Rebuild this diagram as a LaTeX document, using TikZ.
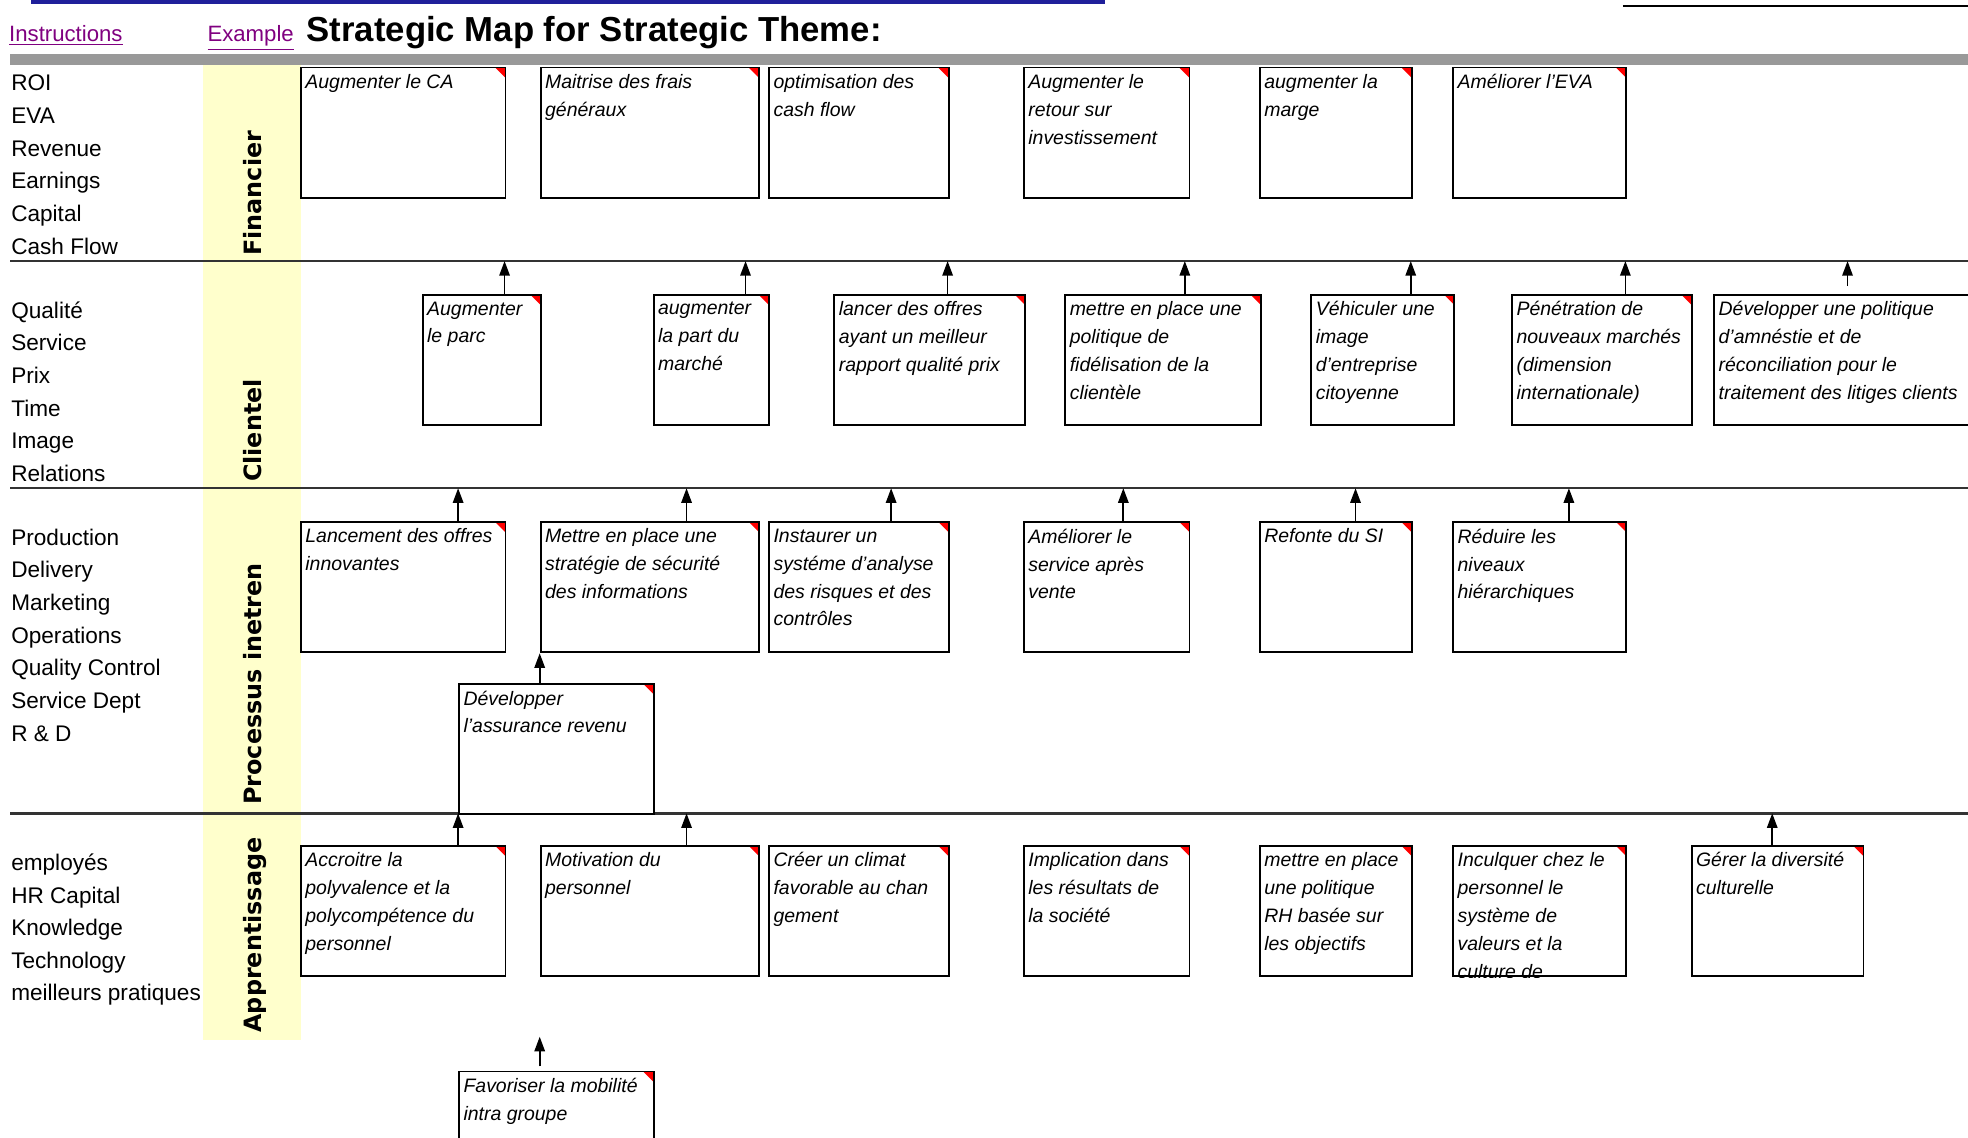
\documentclass[tikz,border=0pt]{standalone}
\usepackage{fontspec}
\setmainfont{Liberation Sans}
\newfontfamily\headfont{DejaVu Sans}
\usetikzlibrary{arrows.meta}
\definecolor{bandgray}{HTML}{999999}
\definecolor{laneyellow}{HTML}{FFFFCC}
\definecolor{linkpurple}{HTML}{800080}
\definecolor{linkblue}{HTML}{1F1F9A}
\definecolor{cornerred}{HTML}{FF0000}

\begin{document}
\begin{tikzpicture}[x=0.6pt,y=-0.6pt,
  kpi/.style={anchor=base west,inner sep=1pt,font=\fontsize{10.8}{13}\selectfont},
  persp/.style={rotate=90,inner sep=0pt,font=\headfont\bfseries\fontsize{11.4}{13}\selectfont},
  link/.style={anchor=base west,inner sep=0pt,text=linkpurple,font=\fontsize{10.6}{13}\selectfont},
  sepline/.style={line width=1.2pt,black!80},
  objbox/.style={draw,line width=0.9pt,fill=white,anchor=north west,inner sep=0pt,minimum height=62.4pt,
    path picture={\fill[cornerred] (path picture bounding box.north east) -- ++(-5pt,0pt) -- ++(5pt,-5pt) -- cycle;}},
  objtext/.style={anchor=north west,align=left,inner xsep=2.4pt,inner ysep=3.6pt,font=\fontsize{9.3}{13.35}\selectfont\itshape},
  flow/.style={-{Triangle[length=7pt,width=5pt]},line width=0.8pt}]
\useasboundingbox (0,0) rectangle (1568,906);
\fill[white] (0,0) rectangle (1568,906);

% header
\fill[linkblue] (25,0) rectangle (880,3);
\draw[line width=1pt] (1293,5) -- (1568,5);
\node[link] (instr) at (7,33) {\underline{Instructions}};
\node[link] (expl) at (165,33) {\underline{Example}};
\node[anchor=base west,inner sep=0pt,font=\bfseries\fontsize{16.6}{18}\selectfont] (ttl) at (244,33) {Strategic Map for Strategic Theme:};

% bands and lanes
\fill[bandgray] (8,43) rectangle (1568,52);
\fill[laneyellow] (162,52) rectangle (240,829);
\foreach \yy in {208,389,648}
  \draw[sepline] (8,\yy) -- (1568,\yy);

\node[persp] (finL) at (201,154) {Financier};
\node[persp] (cliL) at (201,343) {Clientel};
\node[persp] (proL) at (201,545) {Processus inetren};
\node[persp] (appL) at (203,745) {Apprentissage};

% measures on the left
\foreach \lab [count=\i] in {ROI,EVA,Revenue,Earnings,Capital,Cash Flow}
  \node[kpi] (fin\i) at (7,{46.5+26*\i}) {\lab};
\foreach \lab [count=\i] in {Qualité,Service,Prix,Time,Image,Relations}
  \node[kpi] (cli\i) at (7,{227.5+26*\i}) {\lab};
\foreach \lab [count=\i] in {Production,Delivery,Marketing,Operations,Quality Control,Service Dept,R \& D}
  \node[kpi] (pro\i) at (7,{408.5+26*\i}) {\lab};
\foreach \lab [count=\i] in {employés,HR Capital,Knowledge,Technology,meilleurs pratiques}
  \node[kpi] (app\i) at (7,{667.5+26*\i}) {\lab};

% objectives
\foreach \nm/\xa/\ya/\xb/\txt in {
  f1/239/53/402/{Augmenter le CA},
  f2/430/53/604/{Maitrise des frais\\généraux},
  f3/612/53/755/{optimisation des\\cash flow},
  f4/815/53/947/{Augmenter le\\retour sur\\investissement},
  f5/1003/53/1124/{augmenter la\\marge},
  f6/1157/53/1295/{Améliorer l'EVA},
  c1/336/234/430/{Augmenter\\le parc},
  c2/520/234/612/{augmenter\\la part du\\marché},
  c3/664/234/816/{lancer des offres\\ayant un meilleur\\rapport qualité prix},
  c4/848/234/1004/{mettre en place une\\politique de\\fidélisation de la\\clientèle},
  c5/1044/234/1158/{Véhiculer une\\image\\d'entreprise\\citoyenne},
  c6/1204/234/1347/{Pénétration de\\nouveaux marchés\\(dimension\\internationale)},
  c7/1365/234/1580/{Développer une politique\\d'amnéstie et de\\réconciliation pour le\\traitement des litiges clients},
  p1/239/415/402/{Lancement des offres\\innovantes},
  p2/430/415/604/{Mettre en place une\\stratégie de sécurité\\des informations},
  p3/612/415/755/{Instaurer un\\systéme d'analyse\\des risques et des\\contrôles},
  p4/815/415/947/{Améliorer le\\service après\\vente},
  p5/1003/415/1124/{Refonte du SI},
  p6/1157/415/1295/{Réduire les\\niveaux\\hiérarchiques},
  p7/365/544/520/{Développer\\l'assurance revenu},
  a1/239/673/402/{Accroitre la\\polyvalence et la\\polycompétence du\\personnel},
  a2/430/673/604/{Motivation du\\personnel},
  a3/612/673/755/{Créer un climat\\favorable au chan\\gement},
  a4/815/673/947/{Implication dans\\les résultats de\\la société},
  a5/1003/673/1124/{mettre en place\\une politique\\RH basée sur\\les objectifs},
  a6/1157/673/1295/{Inculquer chez le\\personnel le\\système de\\valeurs et la\\culture de},
  a7/1347/673/1484/{Gérer la diversité\\culturelle},
  a8/365/853/520/{Favoriser la mobilité\\intra groupe}}{
  \pgfmathsetmacro\bw{(\xb-\xa)*0.6}
  \node[objbox,minimum width=\bw pt] (\nm) at (\xa,\ya) {};
  \begin{scope}
    \clip (\nm.north west) rectangle (\nm.south east);
    \node[objtext] (\nm-t) at (\nm.north west) {\txt};
  \end{scope}
}

% links up to the next perspective
\foreach \nm/\ax/\ly in {c1/402/208,c2/594/208,c3/755/208,c4/944/208,c5/1124/208,c6/1295/208,
  p1/365/389,p2/547/389,p3/710/389,p4/895/389,p5/1080/389,p6/1250/389,
  a1/365/648,a2/547/648,a7/1412/648}{
  \coordinate (\nm-up) at (\ax,\ly);
  \draw[flow] (\nm.north -| \nm-up) -- (\nm-up);
}
\coordinate (c7-up) at (1472,208);
\draw[flow,shorten <=3.6pt] (c7.north -| c7-up) -- (c7-up);
\draw[flow] (p7.north -| p2.south west) -- (p2.south west);
\coordinate (a8-up) at (430,826);
\draw[flow,shorten <=2pt] (a8.north -| a8-up) -- (a8-up);
\end{tikzpicture}
\end{document}
